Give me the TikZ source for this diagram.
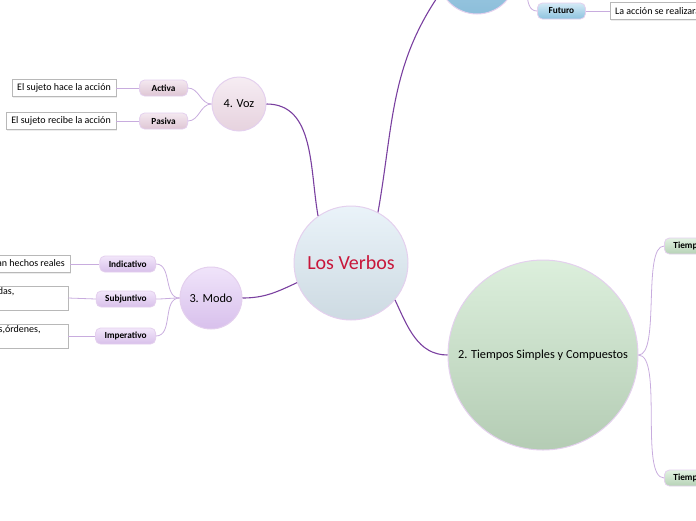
\documentclass[tikz,border=0pt]{standalone}
\usepackage{fontspec}
\setmainfont{Carlito}
\usetikzlibrary{shadows}
\definecolor{rama}{RGB}{122,64,160}
\definecolor{ramita}{RGB}{200,172,222}
\definecolor{borde}{RGB}{228,208,238}
\definecolor{rojo}{RGB}{200,22,58}
\begin{document}
\begin{tikzpicture}[x=1pt,y=1pt,
    idea/.style={circle,draw=borde,line width=1pt,inner sep=0pt,font=\fontsize{12.3}{14}\selectfont},
    tema/.style={rounded corners=5pt,draw=borde,line width=.8pt,minimum height=16pt,minimum width=48pt,
        inner xsep=9pt,inner ysep=0pt,font=\fontsize{9.3}{10}\selectfont\bfseries},
    hoja/.style={draw=black!28,fill=white,drop shadow={opacity=.15,shadow xshift=1pt,shadow yshift=-1pt},
        minimum height=17pt,inner xsep=5pt,inner ysep=2pt,font=\fontsize{10}{12}\selectfont},
    rama/.style={draw=rama,line width=1.1pt},
    ramita/.style={draw=ramita,line width=.8pt}]
    \useasboundingbox (0,0) rectangle (696,-520);
    \clip (0,0) rectangle (696,-520);
    % ideas
    \node[idea,minimum size=114pt,top color={rgb,255:red,234;green,243;blue,249},bottom color={rgb,255:red,205;green,218;blue,226},text=rojo,font=\fontsize{20}{22}\selectfont] (vb) at (351,-263) {Los Verbos};
    \node[idea,minimum size=78pt,top color={rgb,255:red,176;green,214;blue,234},bottom color={rgb,255:red,140;green,190;blue,218}] (t1) at (477,25) {};
    \node[idea,minimum size=190pt,top color={rgb,255:red,220;green,239;blue,220},bottom color={rgb,255:red,180;green,204;blue,180}] (tsc) at (543,-355) {2. Tiempos Simples y Compuestos};
    \node[idea,minimum size=62pt,top color={rgb,255:red,240;green,228;blue,250},bottom color={rgb,255:red,216;green,192;blue,236}] (modo) at (211,-298) {3. Modo};
    \node[idea,minimum size=54pt,top color={rgb,255:red,246;green,237;blue,243},bottom color={rgb,255:red,230;green,210;blue,222}] (voz) at (239,-104) {4. Voz};
    % temas
    \node[tema,anchor=west,top color={rgb,255:red,212;green,234;blue,246},bottom color={rgb,255:red,140;green,194;blue,222}] (fut) at (537,-11) {Futuro};
    \node[tema,anchor=west,top color={rgb,255:red,226;green,242;blue,226},bottom color={rgb,255:red,182;green,210;blue,182}] (ts) at (664,-246) {Tiempos Simples};
    \node[tema,anchor=west,top color={rgb,255:red,226;green,242;blue,226},bottom color={rgb,255:red,182;green,210;blue,182}] (tc) at (664,-478) {Tiempos Compuestos};
    \node[tema,anchor=east,top color={rgb,255:red,244;green,232;blue,240},bottom color={rgb,255:red,222;green,198;blue,212}] (act) at (188,-88) {Activa};
    \node[tema,anchor=east,top color={rgb,255:red,244;green,232;blue,240},bottom color={rgb,255:red,222;green,198;blue,212}] (pas) at (188,-121) {Pasiva};
    \node[tema,anchor=east,top color={rgb,255:red,242;green,230;blue,250},bottom color={rgb,255:red,216;green,192;blue,234}] (ind) at (156,-264) {Indicativo};
    \node[tema,anchor=east,top color={rgb,255:red,242;green,230;blue,250},bottom color={rgb,255:red,216;green,192;blue,234}] (sub) at (156,-299) {Subjuntivo};
    \node[tema,anchor=east,top color={rgb,255:red,242;green,230;blue,250},bottom color={rgb,255:red,216;green,192;blue,234}] (imp) at (156,-336) {Imperativo};
    % hojas
    \node[hoja,anchor=west] (hfut) at (610,-11) {La acción se realizará en el futuro};
    \node[hoja,anchor=east] (hact) at (116,-88) {El sujeto hace la acción};
    \node[hoja,anchor=east] (hpas) at (116,-121) {El sujeto recibe la acción};
    \node[hoja,anchor=east] (hind) at (70,-264) {Expresan hechos reales};
    \node[hoja,anchor=east,text width=233pt,align=left] (hsub) at (68,-298) {Expresan acciones posibles, deseos o dudas,\\ hipotéticas};
    \node[hoja,anchor=east,text width=215pt,align=left] (himp) at (68,-336) {Expresan consejos, mandatos, ruegos,órdenes,\\ peticiones};
    % ramas
    \draw[rama] (vb.62) to[out=80,in=235] (t1.205);
    \draw[rama] (vb.-40) to[out=-65,in=180] (tsc.west);
    \draw[rama] (modo.east) to[out=0,in=205] (vb.200);
    \draw[rama] (voz.east) to[out=0,in=100] (vb.125);
    \draw[ramita] (t1.east) to[out=0,in=180] (fut.west);
    \draw[ramita] (tsc.east) to[out=0,in=180,looseness=.5] (ts.west);
    \draw[ramita] (tsc.east) to[out=0,in=180,looseness=.5] (tc.west);
    \draw[ramita] (voz.west) to[out=180,in=0] (act.east);
    \draw[ramita] (voz.west) to[out=180,in=0] (pas.east);
    \draw[ramita] (modo.west) to[out=180,in=0] (ind.east);
    \draw[ramita] (modo.west) to[out=180,in=0] (sub.east);
    \draw[ramita] (modo.west) to[out=180,in=0] (imp.east);
    \draw[ramita] (fut.east) -- (hfut.west);
    \draw[ramita] (act.west) -- (hact.east);
    \draw[ramita] (pas.west) -- (hpas.east);
    \draw[ramita] (ind.west) -- (hind.east);
    \draw[ramita] (sub.west) -- (hsub.east);
    \draw[ramita] (imp.west) -- (himp.east);
\end{tikzpicture}
\end{document}
